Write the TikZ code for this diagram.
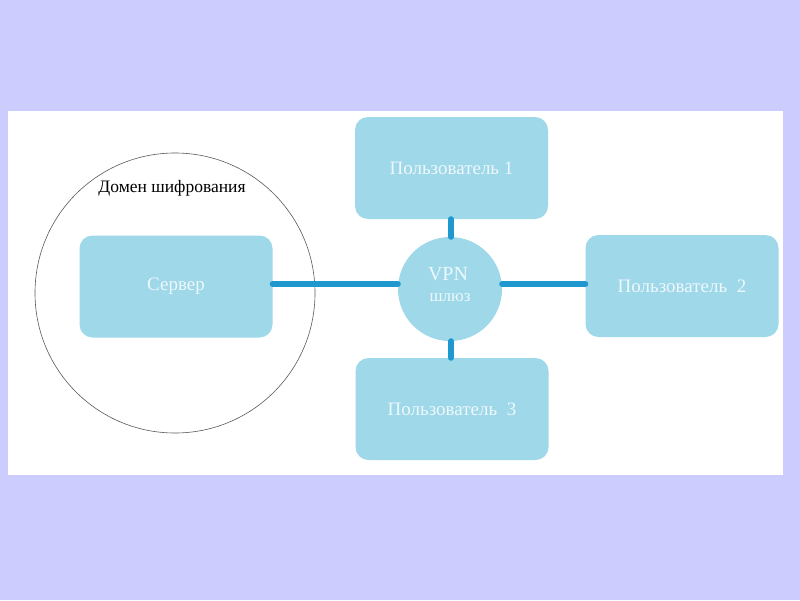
\documentclass[tikz,border=0pt]{standalone}
\usepackage{fontspec}
\setmainfont{Liberation Serif}
\definecolor{bgl}{HTML}{CCCCFF}
\definecolor{boxf}{HTML}{9ED8E9}
\definecolor{conn}{HTML}{1E98CF}
\definecolor{txtw}{HTML}{EEF8FC}
\begin{document}
\begin{tikzpicture}[x=1pt,y=-1pt,
  ubox/.style={draw=none,fill=boxf,rounded corners=13pt,minimum width=193pt,minimum height=102pt,inner sep=0pt,text=txtw,font=\fontsize{19}{21}\selectfont},
  gw/.style={circle,fill=boxf,minimum size=104pt,inner sep=0pt,text=txtw,align=center},
  link/.style={conn,line width=6pt,line cap=round}]
\fill[bgl] (0,0) rectangle (800,600);
\useasboundingbox (0,0) rectangle (800,600);
\fill[white] (8,111) rectangle (783,475);
\node[circle,draw=black!65,line width=0.6pt,minimum size=280pt,inner sep=0pt] (dom) at (175,293) {};
\node[font=\fontsize{17.5}{20}\selectfont,text=black] (domlbl) at (172,188) {Домен шифрования};
\node[ubox] (srv) at (176,286.5) {Сервер};
\node[ubox] (u1) at (451.5,168) {Пользователь 1};
\node[ubox] (u2) at (682,286) {Пользователь\ \ 2};
\node[ubox] (u3) at (452,409) {Пользователь\ \ 3};
\node[gw] (vpn) at (450,289) {};
\node[text=txtw,font=\fontsize{20}{20}\selectfont] (vpnt) at (448,274) {VPN};
\node[text=txtw,font=\fontsize{17}{17}\selectfont] (vpnb) at (450,298) {шлюз};
\draw[link] (srv.east |- 0,284) -- (vpn.west |- 0,284);
\draw[link] (vpn.east |- 0,284) -- (u2.west |- 0,284);
\draw[link] (u1.south -| 451,0) -- (vpn.north -| 451,0);
\draw[link] (vpn.south -| 451,0) -- (u3.north -| 451,0);
\end{tikzpicture}
\end{document}
